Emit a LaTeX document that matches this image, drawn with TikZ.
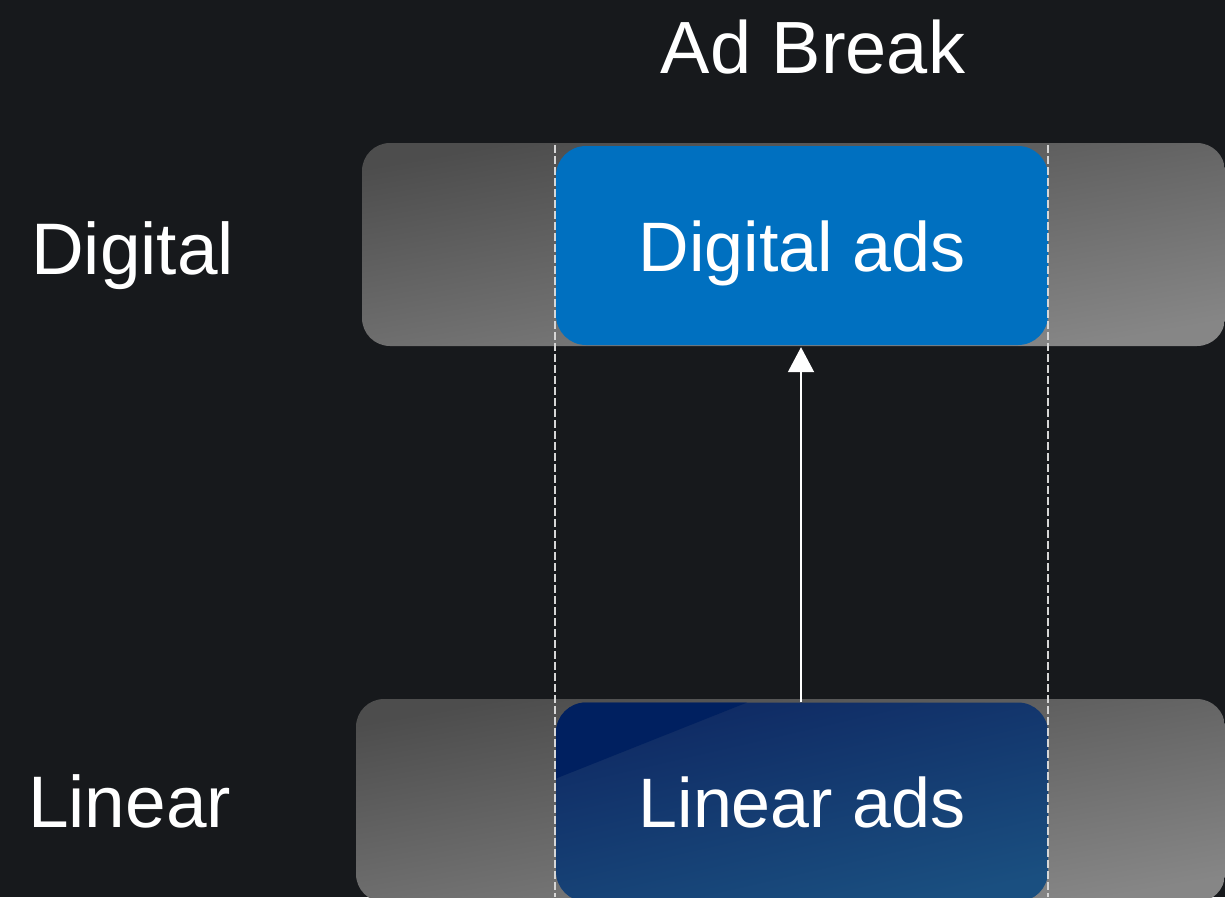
\documentclass[tikz,border=0pt]{standalone}
\usepackage{fontspec}
\setmainfont{Liberation Sans}
\usetikzlibrary{arrows.meta}
\definecolor{bg}{HTML}{17191C}
\definecolor{bandtop}{HTML}{4D4D4D}
\definecolor{bandbot}{HTML}{868686}
\definecolor{digblue}{HTML}{0070C0}
\definecolor{navytop}{HTML}{0F2963}
\definecolor{navybot}{HTML}{1A4F80}
\definecolor{navycorner}{HTML}{002060}
\definecolor{guide}{HTML}{D6D6D6}
\tikzset{
  band/.style={rectangle, rounded corners=28pt, inner sep=0pt,
    top color=bandtop, bottom color=bandbot, shading angle=10},
  adbox/.style={rectangle, rounded corners=30pt, inner sep=0pt,
    text=white, font=\fontsize{70}{84}\selectfont,
    text height=51pt, text depth=0pt},
  rowlabel/.style={anchor=base west, inner sep=0pt, text=white,
    font=\fontsize{73}{88}\selectfont},
  guideline/.style={draw=guide, line width=1.6pt, dash pattern=on 8pt off 3pt},
  flow/.style={draw=white, line width=2pt, -{Triangle[width=26pt,length=25pt]}}
}
\begin{document}
\begin{tikzpicture}[x=1pt,y=-1pt]
  \useasboundingbox (0,0) rectangle (1225,897);
  \fill[bg] (0,0) rectangle (1225,897);
  \clip (0,0) rectangle (1225,897);

  % title
  \node[anchor=base, inner sep=0pt, text=white,
        font=\fontsize{74}{88}\selectfont] (title) at (813,73) {Ad Break};

  % row bands
  \node[band, minimum width=863pt, minimum height=203pt] (digband) at (793.5,244.5) {};
  \node[band, minimum width=869pt, minimum height=203pt] (linband) at (790.5,800.5) {};

  % row labels
  \node[rowlabel] (diglabel) at (31,274) {Digital};
  \node[rowlabel] (linlabel) at (28,827) {Linear};

  % ad boxes
  \node[adbox, fill=digblue, minimum width=492pt, minimum height=199pt]
    (digads) at (802,245.5) {Digital ads};
  \node[adbox, top color=navytop, bottom color=navybot, shading angle=13,
        minimum width=492pt, minimum height=199pt,
        path picture={\fill[navycorner, sharp corners]
          (path picture bounding box.north west)
          -- ++(0,76) -- ++(191,-76) -- cycle;}]
    (linads) at (802,802) {Linear ads};

  % break boundaries
  \coordinate (leftTop) at (555,145);
  \coordinate (leftBot) at (555,897);
  \coordinate (rightTop) at (1048,145);
  \coordinate (rightBot) at (1048,897);
  \draw[guideline] (leftTop) -- (leftBot);
  \draw[guideline] (rightTop) -- (rightBot);

  % linear to digital
  \draw[flow, shorten >=2pt] (linads.north -| 801,0) -- (digads.south -| 801,0);
\end{tikzpicture}
\end{document}
